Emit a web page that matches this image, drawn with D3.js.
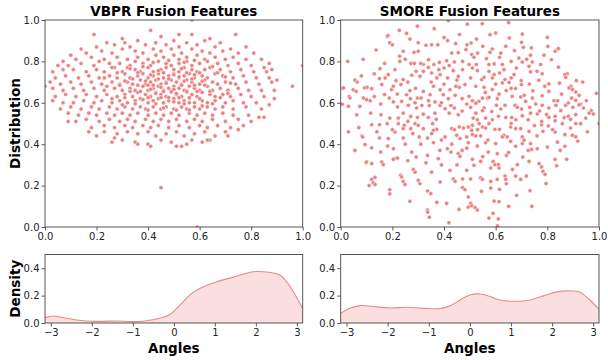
<!DOCTYPE html>
<html>
<head>
<meta charset="utf-8">
<script src="https://cdn.jsdelivr.net/npm/d3@7"></script>
<style>
  body { margin: 0; background: #fff; }
  text { font-family: "DejaVu Sans", sans-serif; }
</style>
</head>
<body>
<svg id="chart" width="608" height="360"></svg>
<script>
// VBPR fusion features, [x, y]
const vbprPoints = [
  [0.00,0.68],[1.00,0.78],[0.96,0.68],[0.57,1.00],[0.45,0.19],[0.59,0.00],
  [0.19,0.93],[0.41,0.95],[0.45,0.92],[0.57,0.93],[0.74,0.93],[0.30,0.91],[0.36,0.90],[0.50,0.90],[0.62,0.90],[0.64,0.91],[0.68,0.89],[0.24,0.89],[0.52,0.93],
  [0.14,0.86],[0.20,0.87],[0.27,0.88],[0.33,0.87],[0.39,0.88],[0.43,0.89],[0.47,0.88],[0.55,0.89],[0.59,0.88],[0.66,0.87],[0.72,0.86],[0.78,0.87],[0.31,0.89],[0.52,0.87],
  [0.10,0.83],[0.16,0.84],[0.22,0.85],[0.26,0.84],[0.30,0.86],[0.35,0.85],[0.38,0.84],[0.42,0.86],[0.45,0.85],[0.49,0.86],[0.53,0.84],[0.57,0.86],[0.61,0.85],[0.64,0.84],[0.69,0.85],[0.75,0.84],[0.81,0.84],
  [0.07,0.80],[0.12,0.81],[0.18,0.82],[0.23,0.81],[0.28,0.82],[0.32,0.81],[0.36,0.82],[0.40,0.81],[0.43,0.83],[0.46,0.82],[0.50,0.83],[0.52,0.81],[0.55,0.82],[0.59,0.83],[0.62,0.81],[0.66,0.82],[0.70,0.81],[0.73,0.82],[0.78,0.81],[0.84,0.81],
  [0.05,0.78],[0.09,0.78],[0.14,0.79],[0.19,0.78],[0.21,0.80],[0.25,0.79],[0.29,0.79],[0.33,0.78],[0.35,0.80],[0.38,0.79],[0.41,0.78],[0.44,0.80],[0.47,0.79],[0.49,0.78],[0.52,0.79],[0.55,0.80],[0.57,0.78],[0.60,0.79],[0.63,0.80],[0.67,0.79],[0.71,0.78],[0.75,0.79],[0.80,0.78],[0.85,0.77],[0.87,0.79],
  [0.03,0.75],[0.07,0.76],[0.11,0.76],[0.16,0.75],[0.20,0.76],[0.23,0.75],[0.27,0.77],[0.30,0.75],[0.32,0.77],[0.35,0.76],[0.37,0.75],[0.40,0.77],[0.42,0.75],[0.45,0.76],[0.47,0.77],[0.50,0.76],[0.52,0.75],[0.54,0.77],[0.57,0.76],[0.59,0.75],[0.62,0.76],[0.64,0.77],[0.68,0.76],[0.72,0.75],[0.76,0.76],[0.81,0.75],[0.86,0.75],[0.88,0.76],
  [0.04,0.72],[0.08,0.73],[0.13,0.72],[0.17,0.73],[0.21,0.72],[0.25,0.73],[0.28,0.72],[0.31,0.74],[0.33,0.72],[0.36,0.73],[0.38,0.74],[0.40,0.72],[0.42,0.73],[0.44,0.74],[0.46,0.72],[0.48,0.73],[0.50,0.74],[0.52,0.72],[0.54,0.73],[0.56,0.74],[0.58,0.72],[0.61,0.73],[0.63,0.72],[0.66,0.74],[0.69,0.73],[0.73,0.72],[0.77,0.73],[0.82,0.72],[0.87,0.72],[0.90,0.71],
  [0.02,0.70],[0.06,0.69],[0.10,0.70],[0.14,0.69],[0.18,0.70],[0.22,0.69],[0.26,0.70],[0.29,0.69],[0.32,0.70],[0.34,0.69],[0.37,0.71],[0.39,0.69],[0.41,0.70],[0.43,0.71],[0.45,0.69],[0.47,0.70],[0.49,0.71],[0.51,0.70],[0.53,0.69],[0.55,0.71],[0.57,0.70],[0.60,0.69],[0.62,0.71],[0.65,0.70],[0.67,0.69],[0.70,0.70],[0.74,0.69],[0.78,0.70],[0.83,0.69],[0.88,0.70],
  [0.03,0.67],[0.07,0.66],[0.11,0.67],[0.15,0.66],[0.19,0.67],[0.23,0.66],[0.27,0.67],[0.30,0.66],[0.33,0.67],[0.35,0.66],[0.38,0.68],[0.40,0.66],[0.42,0.67],[0.44,0.68],[0.46,0.66],[0.48,0.67],[0.50,0.68],[0.52,0.67],[0.54,0.66],[0.56,0.68],[0.58,0.67],[0.60,0.66],[0.63,0.68],[0.65,0.66],[0.68,0.67],[0.71,0.66],[0.75,0.67],[0.79,0.66],[0.84,0.66],[0.89,0.66],
  [0.04,0.63],[0.08,0.64],[0.12,0.63],[0.16,0.64],[0.20,0.63],[0.24,0.64],[0.28,0.63],[0.31,0.64],[0.34,0.63],[0.36,0.65],[0.39,0.64],[0.41,0.63],[0.43,0.65],[0.45,0.64],[0.47,0.63],[0.49,0.65],[0.51,0.64],[0.53,0.63],[0.55,0.65],[0.57,0.64],[0.59,0.63],[0.61,0.65],[0.64,0.64],[0.66,0.63],[0.69,0.64],[0.72,0.63],[0.76,0.64],[0.80,0.63],[0.85,0.63],[0.89,0.62],
  [0.03,0.61],[0.07,0.60],[0.11,0.60],[0.15,0.61],[0.19,0.60],[0.22,0.61],[0.26,0.60],[0.29,0.61],[0.32,0.60],[0.35,0.61],[0.37,0.62],[0.40,0.60],[0.42,0.61],[0.44,0.62],[0.46,0.60],[0.48,0.61],[0.50,0.62],[0.52,0.60],[0.54,0.61],[0.56,0.62],[0.58,0.60],[0.61,0.61],[0.63,0.60],[0.66,0.61],[0.70,0.60],[0.73,0.61],[0.77,0.60],[0.82,0.60],[0.87,0.59],
  [0.06,0.57],[0.10,0.58],[0.14,0.57],[0.18,0.58],[0.21,0.57],[0.25,0.58],[0.28,0.57],[0.31,0.58],[0.34,0.57],[0.37,0.58],[0.39,0.57],[0.42,0.58],[0.45,0.57],[0.47,0.58],[0.50,0.57],[0.53,0.58],[0.55,0.57],[0.58,0.58],[0.60,0.57],[0.63,0.58],[0.66,0.57],[0.69,0.58],[0.73,0.57],[0.78,0.58],[0.84,0.57],
  [0.09,0.55],[0.13,0.54],[0.17,0.55],[0.20,0.54],[0.24,0.55],[0.27,0.54],[0.30,0.55],[0.33,0.54],[0.36,0.55],[0.40,0.54],[0.43,0.55],[0.46,0.54],[0.49,0.55],[0.52,0.54],[0.56,0.55],[0.59,0.54],[0.62,0.55],[0.65,0.54],[0.69,0.55],[0.73,0.54],[0.79,0.54],[0.83,0.53],
  [0.09,0.51],[0.12,0.51],[0.16,0.52],[0.21,0.51],[0.25,0.52],[0.29,0.51],[0.32,0.52],[0.35,0.51],[0.39,0.52],[0.42,0.51],[0.45,0.52],[0.48,0.51],[0.51,0.52],[0.55,0.51],[0.58,0.52],[0.61,0.51],[0.65,0.52],[0.70,0.51],[0.75,0.52],[0.80,0.51],[0.85,0.53],
  [0.18,0.48],[0.23,0.49],[0.27,0.48],[0.31,0.49],[0.34,0.48],[0.38,0.49],[0.41,0.48],[0.44,0.49],[0.48,0.48],[0.52,0.49],[0.56,0.48],[0.60,0.49],[0.63,0.48],[0.67,0.49],[0.72,0.48],[0.77,0.49],
  [0.17,0.46],[0.20,0.44],[0.23,0.46],[0.28,0.45],[0.32,0.46],[0.36,0.45],[0.40,0.46],[0.43,0.44],[0.47,0.45],[0.51,0.46],[0.54,0.44],[0.58,0.45],[0.62,0.46],[0.66,0.44],[0.70,0.46],[0.71,0.44],[0.75,0.47],
  [0.26,0.41],[0.27,0.43],[0.30,0.42],[0.35,0.41],[0.40,0.40],[0.45,0.42],[0.49,0.41],[0.53,0.39],[0.57,0.42],[0.61,0.41],[0.64,0.42],[0.36,0.40],[0.41,0.39],[0.51,0.39],[0.55,0.40],[0.63,0.42],
  [0.41,0.665],[0.45,0.675],[0.49,0.655],[0.53,0.685],[0.47,0.695],[0.51,0.645],[0.43,0.645],[0.55,0.655],[0.39,0.705],[0.57,0.715],[0.44,0.715],[0.52,0.725],[0.48,0.625],[0.40,0.625],[0.56,0.625],[0.46,0.745],[0.60,0.745],[0.36,0.745],[0.34,0.715],[0.62,0.685],[0.37,0.655],[0.59,0.655],[0.50,0.605],[0.43,0.595],[0.53,0.765],
  [0.31,0.625],[0.33,0.655],[0.29,0.685],[0.31,0.705],[0.28,0.745],[0.33,0.765],[0.38,0.775],[0.42,0.795],[0.48,0.805],[0.54,0.795],[0.58,0.805],[0.65,0.775],[0.67,0.745],[0.70,0.725],[0.72,0.695],[0.71,0.645],[0.68,0.625],[0.65,0.595],[0.61,0.585],[0.56,0.565],[0.51,0.565],[0.46,0.575],[0.40,0.565],[0.35,0.595],[0.30,0.59],[0.26,0.62],[0.24,0.68],[0.23,0.72],[0.26,0.77],[0.44,0.755],[0.50,0.735],[0.58,0.735],[0.61,0.705],[0.64,0.655],[0.60,0.62],[0.54,0.595],[0.38,0.615],[0.36,0.685],[0.41,0.735],[0.55,0.745],
  [0.42,0.685],[0.46,0.655],[0.50,0.665],[0.54,0.705],[0.48,0.715],[0.40,0.685],[0.52,0.625],[0.58,0.685],[0.45,0.625],[0.56,0.60]
];

// SMORE fusion features, [x, y]
const smorePoints = [
  [0.008,0.67],[0.027,0.80],[0.033,0.63],[0.03,0.46],[0.055,0.37],[0.087,0.81],[0.082,0.44],[0.098,0.31],[0.11,0.20],[0.12,0.23],[0.133,0.24],[0.137,0.855],[0.18,0.92],[0.19,0.18],[0.19,0.16],[0.227,0.95],[0.255,0.935],[0.268,0.124],[0.297,0.97],[0.336,0.082],[0.343,0.047],[0.372,0.119],[0.41,0.114],[0.419,0.02],[0.417,0.997],[0.49,0.98],[0.548,0.982],[0.59,0.066],[0.61,0.039],[0.65,0.987],[0.65,0.10],[0.74,0.10],[0.733,0.175],[0.80,0.916],[0.836,0.855],[0.877,0.74],[0.937,0.70],[0.99,0.646],[1.0,0.50],[0.955,0.46],[0.918,0.415],[0.875,0.327],[0.836,0.296],[0.795,0.21],
  [0.183,0.925],[0.362,0.958],[0.268,0.908],[0.19,0.89],[0.20,0.88],[0.30,0.89],[0.33,0.878],[0.242,0.849],[0.284,0.844],[0.30,0.849],[0.352,0.88],[0.376,0.88],[0.414,0.90],[0.445,0.886],[0.455,0.842],[0.489,0.88],[0.485,0.857],[0.228,0.825],[0.229,0.80],[0.272,0.79],[0.285,0.79],[0.32,0.785],[0.34,0.808],[0.361,0.785],[0.382,0.795],[0.41,0.803],[0.44,0.797],[0.472,0.80],[0.32,0.752],[0.46,0.93],[0.40,0.915],[0.43,0.84],
  [0.011,0.672],[0.048,0.663],[0.06,0.655],[0.064,0.70],[0.092,0.672],[0.102,0.675],[0.12,0.668],[0.152,0.765],[0.15,0.717],[0.172,0.72],[0.184,0.736],[0.159,0.688],[0.197,0.663],[0.204,0.68],[0.214,0.707],[0.233,0.688],[0.242,0.712],[0.219,0.642],[0.255,0.639],[0.268,0.659],[0.275,0.733],[0.292,0.752],[0.307,0.728],[0.339,0.771],[0.352,0.744],[0.372,0.72],[0.385,0.736],[0.40,0.768],[0.414,0.72],[0.436,0.755],[0.455,0.728],[0.472,0.76],[0.481,0.688],[0.459,0.675],[0.446,0.68],[0.423,0.663],[0.397,0.639],[0.385,0.663],[0.346,0.639],[0.359,0.68],[0.32,0.655],[0.297,0.623],[0.311,0.623],[0.288,0.60],[0.262,0.588],[0.236,0.607],[0.204,0.604],[0.188,0.623],[0.155,0.594],[0.114,0.61],[0.088,0.623],[0.10,0.615],[0.036,0.623],[0.03,0.583],[0.074,0.583],[0.062,0.542],[0.116,0.55],[0.156,0.542],[0.19,0.526],[0.223,0.526],[0.242,0.55],[0.271,0.534],[0.297,0.529],[0.32,0.545],[0.339,0.529],[0.365,0.55],[0.385,0.587],[0.404,0.571],[0.427,0.587],[0.44,0.575],[0.455,0.542],[0.488,0.594],[0.443,0.636],[0.417,0.62],[0.294,0.575],[0.365,0.604],[0.343,0.587],[0.314,0.587],[0.006,0.593],[0.055,0.71],
  [0.12,0.494],[0.15,0.494],[0.18,0.499],[0.223,0.499],[0.246,0.491],[0.242,0.475],[0.271,0.475],[0.288,0.499],[0.30,0.491],[0.32,0.475],[0.356,0.499],[0.359,0.467],[0.372,0.472],[0.43,0.475],[0.44,0.47],[0.459,0.483],[0.475,0.478],[0.494,0.483],[0.085,0.435],[0.15,0.43],[0.184,0.427],[0.21,0.459],[0.242,0.43],[0.279,0.451],[0.304,0.435],[0.336,0.43],[0.352,0.451],[0.359,0.407],[0.404,0.435],[0.449,0.443],[0.462,0.427],[0.488,0.435],[0.494,0.407],[0.094,0.398],[0.055,0.37],[0.12,0.382],[0.155,0.362],[0.182,0.391],[0.204,0.378],[0.208,0.33],[0.22,0.333],[0.275,0.362],[0.292,0.338],[0.336,0.346],[0.384,0.37],[0.413,0.378],[0.427,0.362],[0.378,0.33],[0.455,0.354],[0.462,0.341],[0.488,0.381],[0.423,0.274],[0.10,0.314],[0.12,0.306],[0.159,0.314],[0.165,0.301],[0.204,0.327],[0.232,0.25],[0.236,0.242],[0.242,0.22],[0.249,0.205],[0.281,0.278],[0.288,0.265],[0.30,0.225],[0.307,0.209],[0.352,0.265],[0.385,0.217],[0.436,0.232],[0.443,0.22],[0.472,0.232],[0.488,0.274],[0.126,0.213],[0.133,0.205],[0.336,0.174],[0.349,0.161],[0.337,0.072],[0.458,0.085],[0.472,0.19],[0.481,0.18],[0.494,0.145],[0.494,0.096],
  [0.51,0.491],[0.507,0.467],[0.536,0.499],[0.549,0.483],[0.561,0.478],[0.574,0.499],[0.597,0.472],[0.615,0.472],[0.632,0.443],[0.645,0.435],[0.658,0.483],[0.677,0.475],[0.697,0.475],[0.703,0.435],[0.729,0.462],[0.735,0.403],[0.778,0.494],[0.783,0.462],[0.804,0.488],[0.83,0.459],[0.858,0.499],[0.868,0.446],[0.89,0.478],[0.897,0.443],[0.91,0.435],[0.91,0.499],[0.929,0.499],[0.51,0.446],[0.523,0.44],[0.542,0.44],[0.561,0.407],[0.60,0.403],[0.626,0.435],[0.658,0.414],[0.677,0.39],[0.703,0.403],[0.726,0.37],[0.739,0.375],[0.761,0.378],[0.80,0.386],[0.839,0.41],[0.868,0.39],[0.83,0.327],[0.529,0.391],[0.571,0.362],[0.606,0.354],[0.642,0.346],[0.684,0.301],[0.705,0.338],[0.729,0.317],[0.768,0.306],[0.778,0.29],[0.783,0.269],[0.791,0.254],[0.51,0.327],[0.516,0.298],[0.542,0.317],[0.59,0.317],[0.597,0.301],[0.61,0.301],[0.581,0.285],[0.613,0.285],[0.665,0.278],[0.636,0.246],[0.639,0.23],[0.641,0.209],[0.677,0.246],[0.697,0.23],[0.719,0.246],[0.581,0.22],[0.606,0.23],[0.542,0.237],[0.549,0.23],[0.503,0.232],[0.581,0.188],[0.615,0.182],[0.545,0.172],[0.681,0.153],[0.594,0.125],[0.613,0.122],[0.503,0.114],[0.507,0.103],[0.52,0.094],[0.529,0.082],[0.574,0.043],[0.607,0.005],
  [0.578,0.929],[0.60,0.937],[0.526,0.908],[0.653,0.913],[0.703,0.932],[0.70,0.892],[0.639,0.873],[0.707,0.868],[0.673,0.852],[0.738,0.865],[0.802,0.873],[0.505,0.889],[0.55,0.873],[0.587,0.86],[0.578,0.844],[0.787,0.83],[0.83,0.849],[0.843,0.862],[0.816,0.808],[0.69,0.816],[0.703,0.797],[0.735,0.83],[0.742,0.797],[0.615,0.82],[0.564,0.813],[0.507,0.833],[0.516,0.82],[0.497,0.785],[0.525,0.785],[0.574,0.785],[0.594,0.788],[0.626,0.785],[0.68,0.768],[0.76,0.752],[0.735,0.749],[0.868,0.736],[0.912,0.707],[0.847,0.695],[0.66,0.72],[0.652,0.698],[0.699,0.707],[0.70,0.688],[0.767,0.709],[0.806,0.691],[0.891,0.68],[0.897,0.664],[0.923,0.636],[0.951,0.61],[0.97,0.562],[0.978,0.546],[0.94,0.575],[0.894,0.623],[0.91,0.612],[0.855,0.642],[0.826,0.61],[0.78,0.634],[0.744,0.658],[0.71,0.636],[0.742,0.623],[0.664,0.631],[0.613,0.642],[0.606,0.62],[0.568,0.623],[0.535,0.607],[0.497,0.631],[0.523,0.68],[0.546,0.712],[0.587,0.72],[0.594,0.736],[0.626,0.696],[0.503,0.72],
  [0.51,0.61],[0.523,0.598],[0.549,0.623],[0.574,0.626],[0.603,0.588],[0.636,0.588],[0.675,0.588],[0.684,0.578],[0.697,0.628],[0.716,0.607],[0.732,0.578],[0.755,0.594],[0.78,0.588],[0.806,0.575],[0.833,0.588],[0.852,0.562],[0.871,0.588],[0.881,0.599],[0.899,0.578],[0.929,0.594],[0.962,0.55],[0.91,0.543],[0.881,0.535],[0.89,0.52],[0.865,0.528],[0.83,0.535],[0.797,0.543],[0.806,0.53],[0.761,0.546],[0.735,0.55],[0.703,0.537],[0.662,0.529],[0.639,0.529],[0.611,0.535],[0.585,0.558],[0.555,0.575],[0.549,0.562],[0.523,0.55],[0.503,0.578],[0.513,0.526],[0.529,0.518],[0.561,0.526],[0.587,0.518],[0.678,0.518],[0.726,0.518],[0.778,0.51],[0.83,0.513],[0.949,0.526],
  [0.555,0.723],[0.574,0.752],[0.615,0.744],[0.632,0.76],[0.671,0.736],[0.729,0.776],[0.774,0.785],[0.843,0.772],[0.871,0.723],[0.51,0.768],[0.529,0.755],[0.555,0.675],[0.587,0.664],[0.641,0.659],[0.677,0.669],[0.806,0.655],[0.884,0.672],[0.91,0.652],[0.923,0.59],[0.636,0.712],
  [0.13,0.74],[0.17,0.79],[0.21,0.76],[0.25,0.81],[0.26,0.70],[0.29,0.67],[0.31,0.79],[0.35,0.70],[0.38,0.76],[0.42,0.78],[0.45,0.71],[0.40,0.69],[0.27,0.62],[0.22,0.58],[0.17,0.64],[0.13,0.63],[0.08,0.73],[0.34,0.61],[0.39,0.60],[0.47,0.62],[0.47,0.56],[0.42,0.55],[0.37,0.52],[0.26,0.51],[0.20,0.47],[0.14,0.46],[0.07,0.48],[0.25,0.40],[0.31,0.40],[0.39,0.42],[0.43,0.40],[0.47,0.37],[0.39,0.30],[0.33,0.31],[0.26,0.32],[0.45,0.30],[0.55,0.34],[0.65,0.36],[0.71,0.42],[0.76,0.44],[0.82,0.47],[0.85,0.37],[0.57,0.42],[0.53,0.47],[0.66,0.50],[0.75,0.49],[0.62,0.57],[0.70,0.57],[0.77,0.56],[0.84,0.61],[0.79,0.68],[0.73,0.69],[0.66,0.67],[0.60,0.69],[0.56,0.65],[0.53,0.84],[0.62,0.84],[0.66,0.80],[0.72,0.81],[0.78,0.74]
];

// angle densities, [angle, density]
const vbprDensity = [
  [-3.14,0.039],[-2.94,0.051],[-2.74,0.042],[-2.37,0.022],[-1.88,0.012],[-1.39,0.015],[-0.99,0.010],[-0.66,0.017],[-0.34,0.034],[-0.09,0.064],[0.15,0.13],[0.39,0.205],[0.64,0.254],[1.04,0.30],[1.45,0.335],[1.86,0.37],[2.02,0.376],[2.35,0.369],[2.59,0.35],[2.75,0.30],[2.91,0.23],[3.14,0.107]
];
const smoreDensity = [
  [-3.14,0.071],[-2.92,0.107],[-2.67,0.127],[-2.35,0.12],[-1.94,0.11],[-1.54,0.115],[-1.13,0.107],[-0.73,0.105],[-0.48,0.125],[-0.24,0.168],[0,0.205],[0.25,0.212],[0.49,0.193],[0.73,0.168],[1.14,0.159],[1.46,0.168],[1.79,0.198],[2.11,0.227],[2.43,0.234],[2.68,0.225],[2.92,0.168],[3.14,0.10]
];

const unitTicks = [0, 0.2, 0.4, 0.6, 0.8, 1.0];
const angleTicks = [-3, -2, -1, 0, 1, 2, 3];
const densityTicks = [0, 0.2, 0.4];

const svg = d3.select("#chart");
const cols = [[45, 302.7], [340.7, 599]];
const topRows = [227, 20];
const botRows = [323, 254.5];
const dotColor = "#e98282";
const lineColor = "#e68a8a";

function styleAxis(g) {
  g.attr("font-family", "DejaVu Sans").attr("font-size", 10);
  g.select(".domain").remove();
  g.selectAll(".tick line").attr("stroke", "#333").attr("stroke-width", 0.8);
  g.selectAll(".tick text").attr("fill", "#222");
}

function frame(x, y) {
  svg.append("rect")
    .attr("x", x.range()[0]).attr("y", y.range()[1])
    .attr("width", x.range()[1] - x.range()[0])
    .attr("height", y.range()[0] - y.range()[1])
    .attr("fill", "none").attr("stroke", "#444").attr("stroke-width", 0.9);
}

function clip(id, x, y) {
  svg.append("clipPath").attr("id", id).append("rect")
    .attr("x", x.range()[0]).attr("y", y.range()[1])
    .attr("width", x.range()[1] - x.range()[0])
    .attr("height", y.range()[0] - y.range()[1]);
  return `url(#${id})`;
}

function scatterPanel(i, title, points, ylabel) {
  const x = d3.scaleLinear([0, 1], cols[i]);
  const y = d3.scaleLinear([0, 1], topRows);

  svg.append("g")
    .attr("clip-path", clip("sc" + i, x, y))
    .selectAll("circle")
    .data(points)
    .join("circle")
    .attr("cx", d => x(d[0]))
    .attr("cy", d => y(d[1]))
    .attr("r", 2.1)
    .attr("fill", dotColor)
    .attr("stroke", "#fff")
    .attr("stroke-width", 0.5);

  svg.append("g")
    .attr("transform", `translate(0,${topRows[0]})`)
    .call(d3.axisBottom(x).tickValues(unitTicks).tickFormat(d3.format(".1f")).tickSize(3.5).tickPadding(2.5))
    .call(styleAxis);
  svg.append("g")
    .attr("transform", `translate(${cols[i][0]},0)`)
    .call(d3.axisLeft(y).tickValues(unitTicks).tickFormat(d3.format(".1f")).tickSize(3.5).tickPadding(2))
    .call(styleAxis);
  frame(x, y);

  svg.append("text")
    .attr("x", (cols[i][0] + cols[i][1]) / 2).attr("y", 16)
    .attr("text-anchor", "middle")
    .attr("font-size", 13.5).attr("font-weight", "bold")
    .text(title);

  if (ylabel) {
    svg.append("text")
      .attr("transform", `translate(19.5,${(topRows[0] + topRows[1]) / 2}) rotate(-90)`)
      .attr("text-anchor", "middle")
      .attr("font-size", 13.5).attr("font-weight", "bold")
      .text(ylabel);
  }
}

function densityPanel(i, data, ylabel) {
  const x = d3.scaleLinear([-Math.PI, Math.PI], cols[i]);
  const y = d3.scaleLinear([0, 0.5], botRows);
  const g = svg.append("g").attr("clip-path", clip("dn" + i, x, y));

  g.append("path")
    .datum(data)
    .attr("fill", "#f08080").attr("fill-opacity", 0.25)
    .attr("d", d3.area().x(d => x(d[0])).y0(y(0)).y1(d => y(d[1])).curve(d3.curveCatmullRom));
  g.append("path")
    .datum(data)
    .attr("fill", "none").attr("stroke", lineColor).attr("stroke-width", 1.1)
    .attr("d", d3.line().x(d => x(d[0])).y(d => y(d[1])).curve(d3.curveCatmullRom));

  svg.append("g")
    .attr("transform", `translate(0,${botRows[0]})`)
    .call(d3.axisBottom(x).tickValues(angleTicks).tickFormat(d3.format("d")).tickSize(3.5).tickPadding(2))
    .call(styleAxis);
  svg.append("g")
    .attr("transform", `translate(${cols[i][0]},0)`)
    .call(d3.axisLeft(y).tickValues(densityTicks).tickFormat(d3.format(".1f")).tickSize(3.5).tickPadding(2))
    .call(styleAxis);
  frame(x, y);

  svg.append("text")
    .attr("x", (cols[i][0] + cols[i][1]) / 2).attr("y", 352.5)
    .attr("text-anchor", "middle")
    .attr("font-size", 13.5).attr("font-weight", "bold")
    .text("Angles");

  if (ylabel) {
    svg.append("text")
      .attr("transform", `translate(19.5,${(botRows[0] + botRows[1]) / 2}) rotate(-90)`)
      .attr("text-anchor", "middle")
      .attr("font-size", 13.5).attr("font-weight", "bold")
      .text(ylabel);
  }
}

scatterPanel(0, "VBPR Fusion Features", vbprPoints, "Distribution");
scatterPanel(1, "SMORE Fusion Features", smorePoints, null);
densityPanel(0, vbprDensity, "Density");
densityPanel(1, smoreDensity, null);
</script>
</body>
</html>
